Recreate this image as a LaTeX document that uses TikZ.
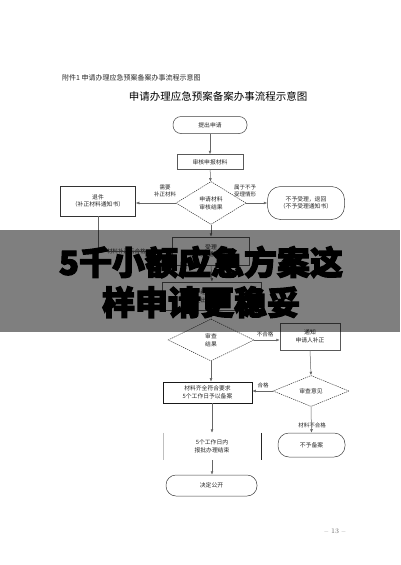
\documentclass[tikz,border=0pt]{standalone}
\usepackage{fontspec}
\newfontfamily\cjk{Noto Sans CJK SC}
\newfontfamily\cjkheavy[BoldFeatures={FakeBold=3.5}]{Noto Sans CJK SC}
\usetikzlibrary{shapes.geometric,arrows.meta}
\tikzset{
  every node/.style={font=\cjk\fontsize{5.8}{7.6}\selectfont, align=center, text=black!85, inner sep=1pt},
  ln/.style={draw=black!60, line width=0.5pt},
  arr/.style={ln, -{Latex[length=3.5pt,width=2.8pt]}},
  box/.style={rectangle, draw=black!65, line width=0.5pt},
  term/.style={rectangle, draw=black!75, line width=0.5pt},
  dia/.style={diamond, draw=black!80, line width=0.5pt, dash pattern=on 1.3pt off 0.9pt, inner sep=0pt},
  lbl/.style={font=\cjk\fontsize{5.5}{7.2}\selectfont}
}
\begin{document}
\begin{tikzpicture}[x=1pt,y=-1pt]
\useasboundingbox (0,0) rectangle (400,565);
\fill[white] (0,0) rectangle (400,565);
% header and title
\node[anchor=west, font=\cjk\fontsize{7}{8}\selectfont] (hdr) at (61,78) {附件1 申请办理应急预案备案办事流程示意图};
\node[font=\cjk\fontsize{10.5}{12}\selectfont, text=black] (title) at (218,96) {申请办理应急预案备案办事流程示意图};
% nodes
\node[term, rounded corners=8pt, minimum width=74pt, minimum height=17pt] (start) at (210,125) {提出申请};
\node[box, minimum width=66pt, minimum height=15pt] (check) at (210,162) {审核申报材料};
\node[dia, minimum width=70pt, minimum height=43pt] (d1) at (211,203) {申请材料\\审核结果};
\node[box, draw=black!80, minimum width=75pt, minimum height=30pt] (back) at (98,201) {退件\\（补正材料通知书）};
\node[term, rounded corners=13pt, minimum width=77pt, minimum height=33pt] (reject) at (306,203) {不予受理，退回\\（不予受理通知书）};
\node[box, minimum width=77pt, minimum height=28pt] (acc) at (211,251) {受理\\（受理通知书）};
\node[box, minimum width=99pt, minimum height=28pt] (rev) at (212,296) {组织审查\\提出审查意见};
\node[dia, minimum width=86pt, minimum height=42pt] (d2) at (211,340) {审查\\结果};
\node[box, minimum width=60pt, minimum height=27pt] (notify) at (310,336.5) {通知\\申请人补正};
\node[dia, minimum width=76pt, minimum height=31pt] (d3) at (311,391) {审查意见};
\node[box, draw=black!90, line width=0.6pt, minimum width=89pt, minimum height=21pt] (ok) at (207.5,392.5) {材料齐全符合要求\\5个工作日予以备案};
\node[minimum width=98pt, minimum height=27pt] (fin) at (212,446.5) {5个工作日内\\报批办理结束};
\draw[black!25, line width=0.5pt] (fin.north west) -- (fin.south west);
\draw[black!85, line width=0.6pt] (fin.north east) -- (fin.south east);
\node[term, rounded corners=10pt, minimum width=91pt, minimum height=21pt] (pub) at (211.5,485.5) {决定公开};
\node[term, rounded corners=11pt, minimum width=67pt, minimum height=24pt] (noreg) at (311.5,445) {不予备案};
\node[font=\fontsize{7}{8}\selectfont, text=black!60] (page) at (335,531) {-- 13 --};
% labels
\node[lbl] (l1) at (165,191) {需要\\补正材料};
\node[lbl] (l2) at (245,191) {属于不予\\受理情形};
\node[lbl, anchor=west] (l3) at (106,251) {材料补正后合格};
\node[lbl] (l4) at (265,334) {不合格};
\node[lbl] (l5) at (263,385) {合格};
\node[lbl] (l6) at (312,425) {材料不合格};
% connectors
\draw[arr] (start) -- (check);
\draw[arr] (check) -- (d1);
\draw[arr] (d1.west) -- (d1.west -| back.east);
\draw[arr] (d1.east) -- (reject.west);
\draw[arr] (back.south) |- (acc.west);
\draw[arr] (d1.south) -- (acc.north);
\draw[arr] (acc.south) -- (rev.north);
\draw[ln] (rev.south) -- (d2.north);
\draw[arr] (d2.east) -- (d2.east -| notify.west);
\draw[arr] (notify.south) -- (d3.north);
\draw[arr] (d3.west) -- (d3.west -| ok.east);
\draw[arr] (d3.south) -- (noreg.north);
\draw[arr] (d2.south) -- (d2.south |- ok.north);
\draw[arr] (ok.south -| fin.north) -- (fin.north);
\draw[arr] (fin.south) -- (fin.south |- pub.north);
% banner overlay
\fill[black, opacity=0.5] (0,230) rectangle (400,332);
\node[font=\cjkheavy\bfseries\fontsize{33}{40}\selectfont, text=black, inner sep=0pt] (banner) at (201,282) {5千小额应急方案这\\样申请更稳妥};
\end{tikzpicture}
\end{document}
